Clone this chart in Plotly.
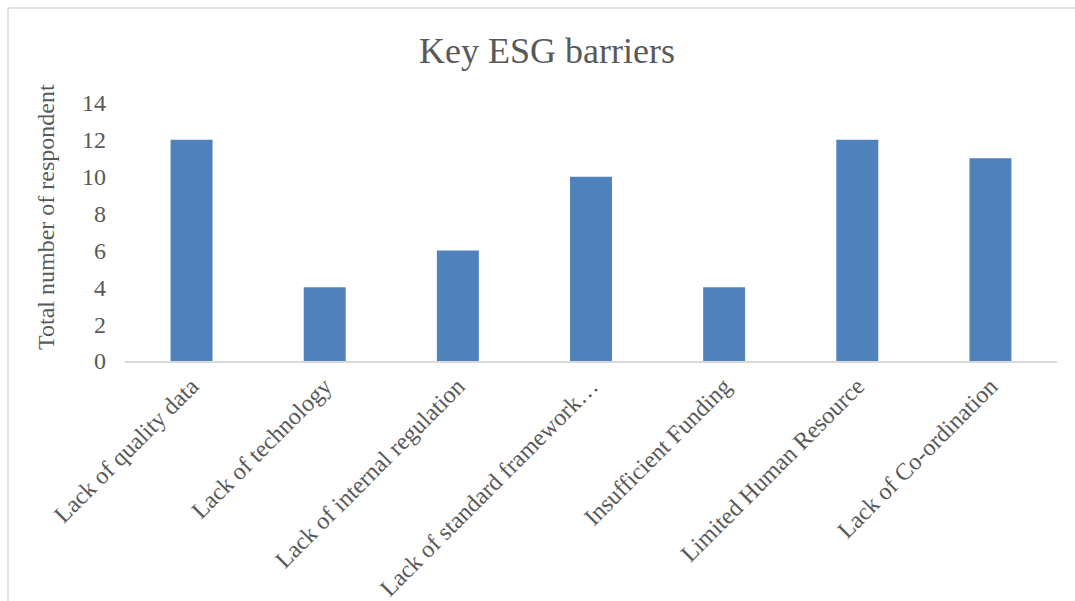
import plotly.graph_objects as go

categories = [
    "Lack of quality data",
    "Lack of technology",
    "Lack of internal regulation",
    "Lack of standard framework…",
    "Insufficient Funding",
    "Limited Human Resource",
    "Lack of Co-ordination",
]
respondents = [12, 4, 6, 10, 4, 12, 11]
y_ticks = [0, 2, 4, 6, 8, 10, 12, 14]

W, H = 1075, 601
L, R, T, B = 125, 18, 103, 240
pw, ph = W - L - R, H - T - B

def px_x(x):
    return (x - L) / pw

def px_y(y):
    return (H - B - y) / ph

font_family = "Liberation Serif, Times New Roman, serif"
text_color = "#595959"

fig = go.Figure(
    go.Bar(
        x=categories,
        y=respondents,
        marker=dict(color="#4F81BD", line=dict(width=0)),
    )
)

fig.update_layout(
    width=W,
    height=H,
    margin=dict(l=L, r=R, t=T, b=B, autoexpand=False),
    paper_bgcolor="white",
    plot_bgcolor="white",
    bargap=0.685,
    showlegend=False,
    font=dict(family=font_family, color=text_color, size=24),
    title=dict(
        text="Key ESG barriers",
        x=547 / W,
        xanchor="center",
        y=1 - 50 / H,
        yanchor="middle",
        font=dict(family=font_family, size=36, color=text_color),
    ),
    xaxis=dict(
        tickangle=-45,
        tickfont=dict(size=24, color=text_color),
        showline=True,
        linecolor="#D9D9D9",
        linewidth=1.5,
        showgrid=False,
        ticks="",
        automargin=False,
    ),
    yaxis=dict(
        range=[0, 14],
        tickvals=y_ticks,
        tickfont=dict(size=24, color=text_color),
        showgrid=False,
        zeroline=False,
        showline=False,
        ticks="",
        ticklabelstandoff=18,
        automargin=False,
    ),
    annotations=[
        dict(
            text="Total number of respondent",
            xref="paper", yref="paper",
            x=px_x(46), y=px_y(217),
            xanchor="center", yanchor="middle",
            textangle=-90,
            showarrow=False,
            font=dict(size=24, color=text_color, family=font_family),
        )
    ],
    shapes=[
        # chart border (top and left edges)
        dict(type="line", xref="paper", yref="paper",
             x0=px_x(8), x1=px_x(W + 5), y0=px_y(8), y1=px_y(8),
             line=dict(color="#D9D9D9", width=1.5)),
        dict(type="line", xref="paper", yref="paper",
             x0=px_x(8), x1=px_x(8), y0=px_y(8), y1=px_y(H + 5),
             line=dict(color="#D9D9D9", width=1.5)),
    ],
)

fig.write_html("out.html")
